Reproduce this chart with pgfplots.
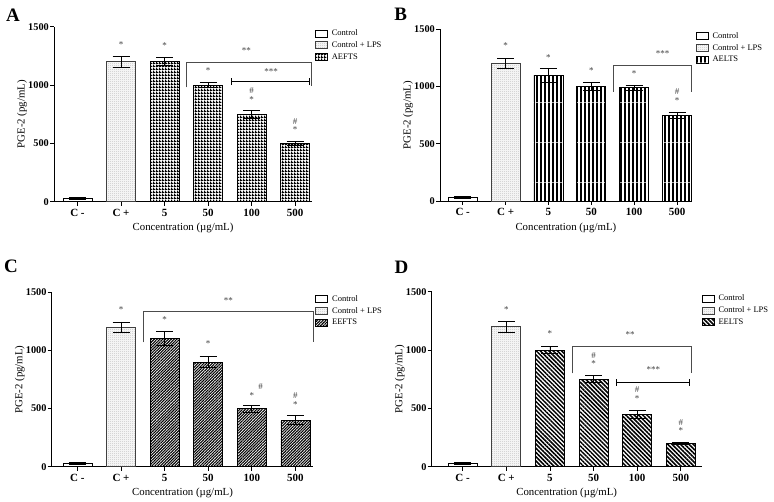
\documentclass[border=0pt]{standalone}
\usepackage{fontspec}
\setmainfont{Liberation Serif}
\usepackage{pgfplots}
\pgfplotsset{compat=1.18}
\usetikzlibrary{patterns,patterns.meta}

\pgfdeclarepatternformonly{vstripes}{\pgfpointorigin}{\pgfqpoint{4pt}{40pt}}{\pgfqpoint{4pt}{40pt}}%
  {\pgfpathrectangle{\pgfpointorigin}{\pgfqpoint{2.3pt}{40pt}}\pgfusepath{fill}}
\pgfdeclarepatternformonly{checker}{\pgfpointorigin}{\pgfqpoint{3pt}{3pt}}{\pgfqpoint{3pt}{3pt}}%
  {\pgfpathrectangle{\pgfpointorigin}{\pgfqpoint{3pt}{1.45pt}}\pgfusepath{fill}%
   \pgfpathrectangle{\pgfpointorigin}{\pgfqpoint{1.45pt}{3pt}}\pgfusepath{fill}}
\pgfdeclarepatternformonly{fdots}{\pgfpointorigin}{\pgfqpoint{2pt}{2pt}}{\pgfqpoint{2pt}{2pt}}%
  {\pgfpathrectangle{\pgfpointorigin}{\pgfqpoint{0.8pt}{0.8pt}}\pgfusepath{fill}}

\pgfplotsset{
  panel/.style={
    scale only axis, anchor=south west, clip=false,
    axis lines*=left,
    axis line style={line width=0.9pt,-},
    ymin=0, ymax=1500, ytick={0,500,1000,1500},
    scaled y ticks=false,
    /pgf/number format/1000 sep={},
    /pgf/number format/assume math mode=true,
    xtick={0,...,5},
    xticklabels={C -, C +, 5, 50, 100, 500},
    tick align=outside, major tick length=4pt,
    every tick/.style={black, line width=0.8pt},
    yticklabel style={font=\fontsize{10.3}{12}\selectfont\bfseries, inner sep=1pt},
    xticklabel style={font=\fontsize{11}{13}\selectfont\bfseries},
    every axis y label/.style={at={(axis description cs:0,0.5)}, xshift=-32pt, rotate=90, anchor=center, font=\fontsize{10.8}{13}\selectfont},
    every axis x label/.style={at={(axis description cs:0.5,0)}, yshift=-26.6pt, anchor=center, font=\fontsize{10.8}{13}\selectfont},
    ylabel={PGE-2 (pg/mL)},
    xlabel={Concentration (µg/mL)},
    ybar, bar width=29pt,
    error bars/y dir=both, error bars/y explicit,
    error bars/error bar style={line width=0.8pt, black},
    error bars/error mark options={rotate=90, mark size=8.5pt, line width=0.8pt, black},
    legend style={draw=none, fill=none, anchor=north west, font=\fontsize{8.5}{10}\selectfont,
      nodes={text height=6pt, text depth=1.5pt, inner sep=1pt}, row sep=2.2pt, column sep=3pt, inner sep=0pt},
    legend cell align=left,
  },
  bb/.style={draw=black, line width=0.8pt, bar shift=0pt,
    legend image code/.code={\draw[##1, line width=0.6pt] (0pt,-3.5pt) rectangle (12pt,3.5pt);}},
  ctrl/.style={bb, fill=white},
  lps/.style={bb, draw=black!75, fill=gray!9, postaction={pattern=fdots, pattern color=gray!65}},
}
\tikzset{ann/.style={font=\fontsize{9}{10}\selectfont, text=black!75, inner sep=0pt}}
\newcommand{\st}[3][*]{\node[ann] at (axis cs:#2,#3) {#1};}

\begin{document}
\begin{tikzpicture}
\useasboundingbox (0,0) rectangle (774pt,502pt);

% ---------------- A
\node[font=\fontsize{19}{20}\selectfont\bfseries] at (13pt,487pt) {A};
\begin{axis}[panel, at={(54pt,300.3pt)}, width=258pt, height=175pt,
  xmin=-0.54, xmax=5.39,
  legend style={at={(axis description cs:1,1)}, xshift=3pt, yshift=-1.8pt}]
\addplot[ctrl] coordinates {(0,30) +- (0,10)};
\addplot[lps] coordinates {(1,1200) +- (0,45)};
\addplot[bb, pattern=checker, pattern color=black] coordinates {(2,1200) +- (0,35) (3,1000) +- (0,20) (4,750) +- (0,35) (5,500) +- (0,20)};
\legend{Control, Control + LPS, AEFTS}
\st{1}{1350} \st{2}{1337} \st{3}{1122}
\st{4}{875} \st[\#]{4}{950}
\st{5}{617} \st[\#]{5}{684}
\st[**]{3.88}{1294} \st[***]{4.45}{1117}
\draw[line width=0.6pt, black!70] (axis cs:2.49,980) -- (axis cs:2.49,1194) -- (axis cs:5.38,1194) -- (axis cs:5.38,993);
\draw[line width=1.3pt] (axis cs:3.54,1031) -- (axis cs:5.34,1031);
\draw[line width=0.8pt] (axis cs:3.54,1000) -- (axis cs:3.54,1062);
\draw[line width=0.8pt] (axis cs:5.34,1000) -- (axis cs:5.34,1062);
\end{axis}

% ---------------- B
\node[font=\fontsize{19}{20}\selectfont\bfseries] at (400.8pt,487.8pt) {B};
\begin{axis}[panel, at={(440pt,301pt)}, width=251.7pt, height=171.7pt,
  xmin=-0.53, xmax=5.34,
  legend style={at={(axis description cs:1,1)}, xshift=4pt, yshift=-2pt}]
\addplot[ctrl] coordinates {(0,30) +- (0,10)};
\addplot[lps] coordinates {(1,1200) +- (0,45)};
\addplot[bb, pattern=vstripes, pattern color=black] coordinates {(2,1100) +- (0,60) (3,1000) +- (0,35) (4,990) +- (0,20) (5,750) +- (0,25)};
\legend{Control, Control + LPS, AELTS}
\st{1}{1354} \st{2}{1255} \st{3}{1139} \st{4}{1116}
\st{5}{880} \st[\#]{5}{952}
\st[***]{4.66}{1290}
\draw[line width=0.6pt, black!70] (axis cs:3.5,955) -- (axis cs:3.5,1183) -- (axis cs:5.34,1183) -- (axis cs:5.34,955);
\end{axis}

% ---------------- C
\node[font=\fontsize{19}{20}\selectfont\bfseries] at (11pt,236pt) {C};
\begin{axis}[panel, at={(51.7pt,35.3pt)}, width=261.6pt, height=174.4pt,
  xmin=-0.59, xmax=5.41,
  legend style={at={(axis description cs:1,1)}, xshift=2pt, yshift=-2pt}]
\addplot[ctrl] coordinates {(0,30) +- (0,10)};
\addplot[lps] coordinates {(1,1200) +- (0,45)};
\addplot[bb, pattern={Lines[angle=45, distance=2pt, line width=1.1pt]}, pattern color=black] coordinates {(2,1100) +- (0,60) (3,900) +- (0,50) (4,500) +- (0,30) (5,400) +- (0,40)};
\legend{Control, Control + LPS, EEFTS}
\st{1}{1354} \st{2}{1262} \st{3}{1061}
\st{4}{612} \st[\#]{4.2}{692}
\st{5}{532} \st[\#]{5}{608}
\st[**]{3.46}{1428}
\draw[line width=0.6pt, black!70] (axis cs:1.5,1070) -- (axis cs:1.5,1334) -- (axis cs:5.41,1334) -- (axis cs:5.41,1070);
\end{axis}

% ---------------- D
\node[font=\fontsize{19}{20}\selectfont\bfseries] at (401.5pt,234.5pt) {D};
\begin{axis}[panel, at={(431.7pt,35.3pt)}, width=270pt, height=175pt,
  xmin=-0.71, xmax=5.48,
  legend style={at={(axis description cs:1,1)}, xshift=0pt, yshift=-2pt}]
\addplot[ctrl] coordinates {(0,30) +- (0,10)};
\addplot[lps] coordinates {(1,1200) +- (0,45)};
\addplot[bb, pattern={Lines[angle=-45, distance=3pt, line width=1.5pt]}, pattern color=black] coordinates {(2,1000) +- (0,30) (3,750) +- (0,30) (4,450) +- (0,35) (5,200) +- (0,8)};
\legend{Control, Control + LPS, EELTS}
\st{1}{1343} \st{2}{1143}
\st{3}{880} \st[\#]{3}{950}
\st{4}{580} \st[\#]{4}{662}
\st{5}{308} \st[\#]{5}{378}
\st[**]{3.84}{1129} \st[***]{4.37}{834}
\draw[line width=0.6pt, black!70] (axis cs:2.51,800) -- (axis cs:2.51,1029) -- (axis cs:5.25,1029) -- (axis cs:5.25,800);
\draw[line width=1.3pt] (axis cs:3.53,723) -- (axis cs:5.2,723);
\draw[line width=0.8pt] (axis cs:3.53,692) -- (axis cs:3.53,754);
\draw[line width=0.8pt] (axis cs:5.2,692) -- (axis cs:5.2,754);
\end{axis}
\end{tikzpicture}
\end{document}
